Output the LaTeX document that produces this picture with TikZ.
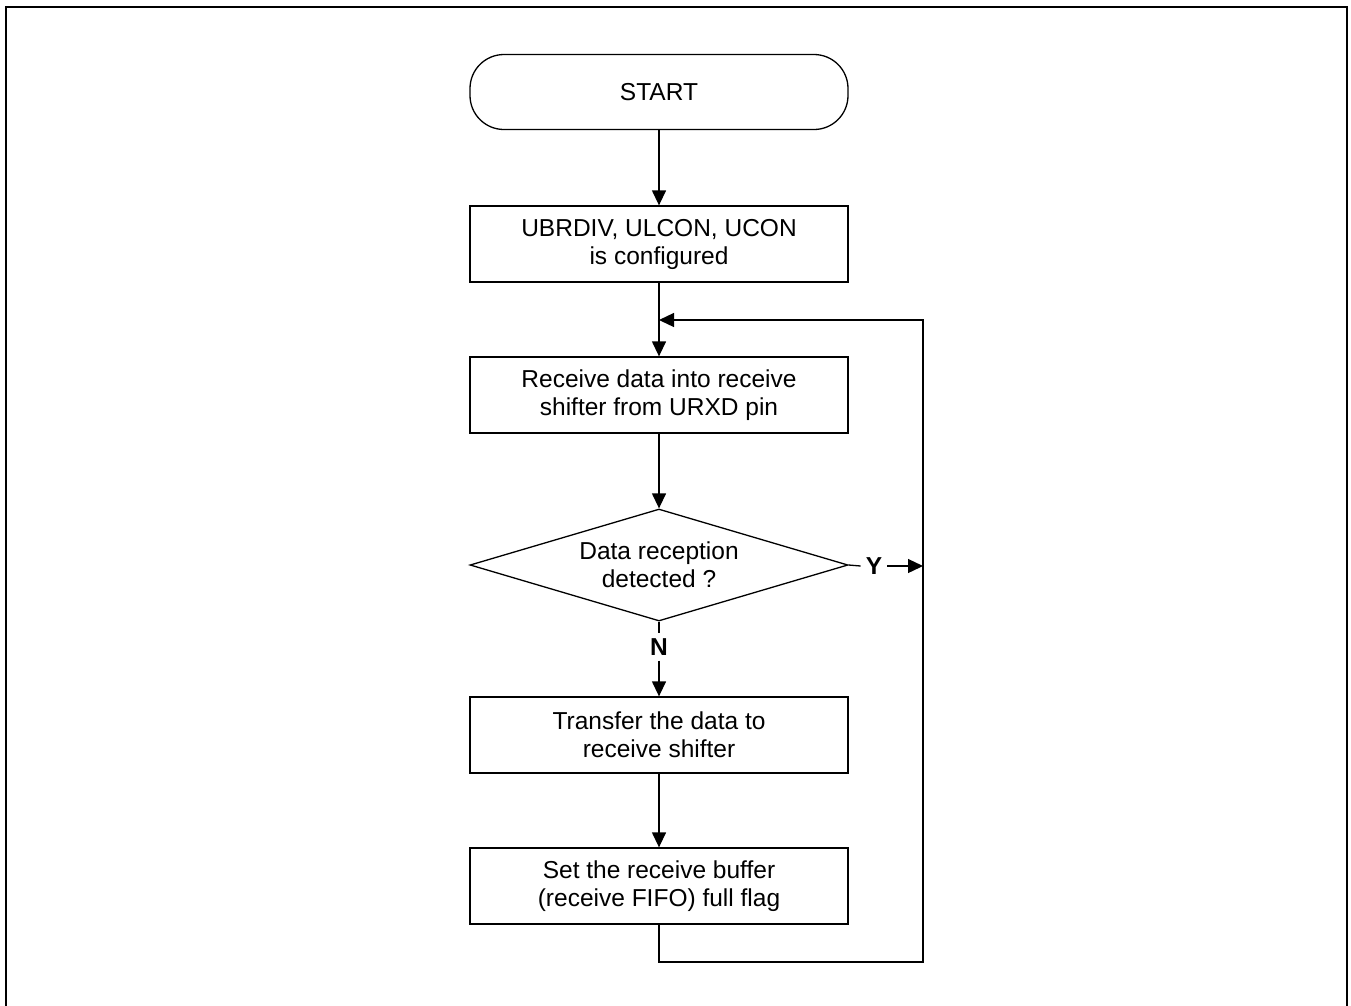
\documentclass[tikz,border=0pt]{standalone}
\usepackage{fontspec}
\setmainfont{Liberation Sans}
\usetikzlibrary{shapes.geometric,arrows.meta}
\begin{document}
\begin{tikzpicture}[x=1pt,y=-1pt,
  every node/.style={font=\fontsize{24.5}{28}\selectfont},
  procbox/.style={draw,line width=1.3pt,minimum width=378pt,minimum height=76pt,inner sep=0pt,align=center},
  termbox/.style={draw,line width=1.3pt,minimum width=378pt,minimum height=75pt,inner sep=0pt,rounded corners=34pt,align=center},
  decbox/.style={draw,diamond,aspect=3.375,line width=1.3pt,minimum width=378pt,minimum height=112pt,inner sep=0pt,align=center},
  lbl/.style={font=\fontsize{24.5}{28}\selectfont\bfseries,inner sep=5pt},
  conn/.style={line width=1.3pt},
  arr/.style={conn,-{Triangle[length=15pt,width=14pt]}}]
\useasboundingbox (0,0) rectangle (1351,1005);
\draw[line width=2.5pt] (6,1020) -- (6,7) -- (1347,7) -- (1347,1020);
\node[termbox] (start) at (659,92) {START};
\node[procbox] (cfg) at (659,244) {UBRDIV, ULCON, UCON\\is configured};
\node[procbox] (rx) at (659,395) {Receive data into receive\\shifter from URXD pin};
\node[decbox] (dec) at (659,565) {Data reception\\detected ?};
\node[procbox] (xfer) at (659,735) {Transfer the data to\\receive shifter};
\node[procbox] (flag) at (659,886) {Set the receive buffer\\(receive FIFO) full flag};
\node[lbl] (ylab) at (874,566) {Y};
\node[lbl] (nlab) at (659,647) {N};
\coordinate (join) at (659,320);
\coordinate (yend) at (923,566);
\draw[arr] (start.south) -- (cfg.north);
\draw[arr] (cfg.south) -- (rx.north);
\draw[arr] (rx.south) -- (dec.north);
\draw[conn] (dec.south) -- (nlab.north);
\draw[arr] (nlab.south) -- (xfer.north);
\draw[arr] (xfer.south) -- (flag.north);
\draw[conn] (dec.east) -- (ylab.west);
\draw[arr] (ylab.east) -- (yend);
\draw[arr] (flag.south) -- (659,962) -- (923,962) -- (923,320) -- (join);
\end{tikzpicture}
\end{document}
